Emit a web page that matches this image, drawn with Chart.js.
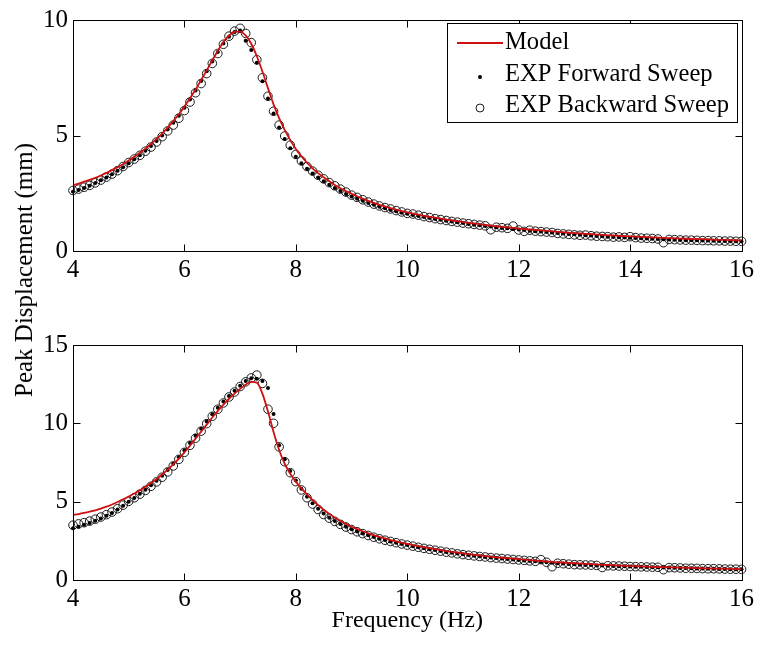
<!DOCTYPE html>
<html>
<head>
<meta charset="utf-8">
<script src="https://cdn.jsdelivr.net/npm/chart.js@4.4.1/dist/chart.umd.min.js"></script>
<style>
  html, body { margin: 0; padding: 0; background: #ffffff; }
  #wrap { position: relative; width: 758px; height: 645px; background: #ffffff; overflow: hidden; }
  canvas { position: absolute; left: 0; }
  #c1 { top: 0; }
  #c2 { top: 300px; }
  #ylab {
    position: absolute; left: 24px; top: 270px;
    font-family: "Liberation Serif", "Times New Roman", serif; font-size: 25px; color: #000;
    white-space: nowrap; transform: translate(-50%, -50%) rotate(-90deg);
  }
</style>
</head>
<body>
<div id="wrap">
  <canvas id="c1" width="758" height="300"></canvas>
  <canvas id="c2" width="758" height="345"></canvas>
  <div id="ylab">Peak Displacement (mm)</div>
</div>
<script>
// ---------------- DATA ----------------
const freq = [4.0,4.1,4.2,4.3,4.4,4.5,4.6,4.7,4.8,4.9,
  5.0,5.1,5.2,5.3,5.4,5.5,5.6,5.7,5.8,5.9,
  6.0,6.1,6.2,6.3,6.4,6.5,6.6,6.7,6.8,6.9,
  7.0,7.1,7.2,7.3,7.4,7.5,7.6,7.7,7.8,7.9,
  8.0,8.1,8.2,8.3,8.4,8.5,8.6,8.7,8.8,8.9,
  9.0,9.1,9.2,9.3,9.4,9.5,9.6,9.7,9.8,9.9,
  10.0,10.1,10.2,10.3,10.4,10.5,10.6,10.7,10.8,10.9,
  11.0,11.1,11.2,11.3,11.4,11.5,11.6,11.7,11.8,11.9,
  12.0,12.1,12.2,12.3,12.4,12.5,12.6,12.7,12.8,12.9,
  13.0,13.1,13.2,13.3,13.4,13.5,13.6,13.7,13.8,13.9,
  14.0,14.1,14.2,14.3,14.4,14.5,14.6,14.7,14.8,14.9,
  15.0,15.1,15.2,15.3,15.4,15.5,15.6,15.7,15.8,15.9,16.0];

// Top panel
const topModel = [2.85,2.92,3.00,3.08,3.17,3.27,3.38,3.50,3.63,3.77,
  3.92,4.08,4.25,4.43,4.63,4.85,5.08,5.34,5.62,5.92,
  6.25,6.61,6.99,7.40,7.82,8.25,8.67,9.05,9.33,9.49,
  9.50,9.33,8.97,8.43,7.77,7.05,6.35,5.75,5.24,4.80,
  4.42,4.10,3.82,3.58,3.37,3.19,3.02,2.86,2.72,2.59,
  2.48,2.37,2.27,2.17,2.08,2.00,1.93,1.86,1.79,1.73,
  1.67,1.62,1.57,1.52,1.48,1.44,1.40,1.36,1.32,1.29,
  1.25,1.22,1.19,1.16,1.13,1.10,1.07,1.05,1.02,1.00,
  0.97,0.95,0.93,0.91,0.89,0.87,0.85,0.83,0.81,0.79,
  0.77,0.76,0.74,0.73,0.71,0.70,0.68,0.67,0.66,0.64,
  0.63,0.62,0.61,0.60,0.59,0.58,0.57,0.56,0.55,0.54,
  0.53,0.52,0.51,0.51,0.50,0.49,0.48,0.48,0.47,0.46,0.46];
const topForward = [2.56,2.64,2.73,2.83,2.94,3.06,3.18,3.32,3.47,3.63,
  3.80,3.97,4.15,4.34,4.55,4.76,5.00,5.26,5.55,5.86,
  6.20,6.56,6.95,7.36,7.78,8.20,8.62,8.98,9.28,9.48,
  9.55,9.10,8.70,8.15,7.35,6.60,5.95,5.35,4.85,4.45,
  4.08,3.80,3.56,3.36,3.18,3.02,2.87,2.73,2.60,2.47,
  2.36,2.26,2.17,2.08,2.00,1.92,1.85,1.78,1.72,1.66,
  1.61,1.56,1.52,1.47,1.43,1.39,1.35,1.31,1.28,1.24,
  1.21,1.17,1.14,1.11,1.08,1.06,1.03,1.00,0.98,0.95,
  0.93,0.91,0.88,0.86,0.84,0.82,0.80,0.78,0.76,0.74,
  0.72,0.70,0.68,0.67,0.65,0.64,0.62,0.61,0.60,0.58,
  0.57,0.56,0.55,0.54,0.53,0.52,0.51,0.50,0.49,0.48,
  0.47,0.47,0.46,0.45,0.45,0.44,0.43,0.43,0.42,0.42,0.41];
const topBackward = [2.62,2.68,2.76,2.84,2.95,3.07,3.20,3.33,3.48,3.66,
  3.83,3.98,4.14,4.32,4.50,4.72,4.95,5.20,5.45,5.75,
  6.08,6.45,6.85,7.25,7.68,8.12,8.55,8.95,9.30,9.52,
  9.64,9.42,9.02,8.28,7.50,6.70,6.05,5.45,4.98,4.58,
  4.18,3.90,3.66,3.46,3.28,3.12,2.96,2.82,2.68,2.55,
  2.42,2.32,2.22,2.12,2.03,1.95,1.88,1.82,1.75,1.69,
  1.63,1.60,1.55,1.49,1.45,1.40,1.36,1.32,1.28,1.25,
  1.21,1.18,1.15,1.12,1.09,0.92,1.03,1.01,0.98,1.08,
  0.91,0.85,0.90,0.86,0.84,0.82,0.80,0.76,0.74,0.72,
  0.70,0.68,0.69,0.66,0.64,0.63,0.62,0.60,0.61,0.59,
  0.62,0.58,0.56,0.55,0.54,0.52,0.36,0.50,0.49,0.48,
  0.47,0.47,0.46,0.45,0.45,0.44,0.44,0.43,0.43,0.42,0.42];

// Bottom panel
const botModel = [4.15,4.21,4.28,4.36,4.45,4.56,4.68,4.82,4.98,5.15,
  5.33,5.52,5.73,5.95,6.19,6.45,6.73,7.04,7.38,7.75,
  8.15,8.58,9.02,9.47,9.92,10.37,10.80,11.20,11.57,11.90,
  12.20,12.47,12.65,12.60,11.90,10.75,9.45,8.30,7.42,6.78,
  6.28,5.85,5.46,5.10,4.78,4.48,4.22,3.98,3.77,3.58,
  3.40,3.25,3.11,2.98,2.86,2.75,2.65,2.55,2.46,2.38,
  2.30,2.23,2.16,2.09,2.03,1.97,1.91,1.85,1.80,1.75,
  1.70,1.65,1.61,1.57,1.53,1.49,1.45,1.42,1.39,1.36,
  1.33,1.30,1.27,1.24,1.21,1.18,1.16,1.13,1.11,1.09,
  1.07,1.05,1.03,1.01,0.99,0.97,0.96,0.94,0.92,0.91,
  0.89,0.88,0.87,0.85,0.84,0.83,0.82,0.81,0.80,0.79,
  0.78,0.77,0.76,0.75,0.74,0.73,0.72,0.72,0.71,0.70,0.69];
const botForward = [3.30,3.40,3.52,3.64,3.78,3.93,4.10,4.28,4.50,4.74,
  5.00,5.24,5.50,5.76,6.04,6.34,6.66,7.02,7.42,7.84,
  8.28,8.74,9.20,9.66,10.12,10.58,11.00,11.40,11.75,12.08,
  12.40,12.70,12.88,12.85,12.70,12.25,10.60,8.60,7.70,6.95,
  6.35,5.82,5.32,4.90,4.55,4.24,3.98,3.76,3.57,3.40,
  3.24,3.10,2.97,2.85,2.74,2.64,2.55,2.46,2.38,2.30,
  2.23,2.16,2.09,2.03,1.97,1.91,1.85,1.79,1.74,1.69,
  1.64,1.59,1.55,1.51,1.47,1.44,1.40,1.37,1.34,1.31,
  1.28,1.25,1.22,1.19,1.16,1.13,1.10,1.07,1.05,1.02,
  1.00,0.98,0.96,0.95,0.93,0.92,0.91,0.90,0.88,0.87,
  0.86,0.85,0.84,0.83,0.82,0.81,0.80,0.79,0.78,0.77,
  0.76,0.75,0.74,0.73,0.72,0.72,0.71,0.70,0.69,0.69,0.68];
const botBackward = [3.50,3.58,3.66,3.76,3.88,4.02,4.17,4.34,4.55,4.78,
  5.02,5.25,5.48,5.72,5.98,6.26,6.56,6.90,7.28,7.70,
  8.15,8.60,9.05,9.50,9.98,10.45,10.90,11.30,11.68,12.00,
  12.35,12.65,12.90,13.08,12.55,10.90,10.00,8.50,7.55,6.85,
  6.28,5.75,5.25,4.85,4.50,4.18,3.95,3.74,3.55,3.38,
  3.22,3.08,2.96,2.84,2.73,2.63,2.54,2.46,2.38,2.30,
  2.23,2.16,2.09,2.02,1.96,1.90,1.84,1.78,1.73,1.67,
  1.62,1.58,1.54,1.50,1.47,1.43,1.40,1.37,1.34,1.31,
  1.28,1.25,1.22,1.19,1.30,1.13,0.85,1.07,1.04,1.01,
  0.98,0.97,0.96,0.95,0.93,0.80,0.91,0.90,0.89,0.88,
  0.86,0.85,0.84,0.83,0.82,0.81,0.66,0.79,0.78,0.77,
  0.75,0.75,0.74,0.73,0.72,0.72,0.71,0.70,0.69,0.69,0.68];

const xTicks = [4, 6, 8, 10, 12, 14, 16];
const topYTicks = [0, 5, 10];
const botYTicks = [0, 5, 10, 15];
const legendLabels = ['Model', 'EXP Forward Sweep', 'EXP Backward Sweep'];
const xTitle = 'Frequency (Hz)';

// ---------------- STYLE ----------------
const FONT = '"Liberation Serif", "Times New Roman", serif';
const RED = '#d01010';

function pairs(ys) { return freq.map((f, i) => ({ x: f, y: ys[i] })); }

function datasets(model, fwd, bwd) {
  return [
    { label: legendLabels[0], data: pairs(model), showLine: true, borderColor: RED, borderWidth: 1.8,
      pointRadius: 0, cubicInterpolationMode: 'monotone', fill: false },
    { label: legendLabels[1], data: pairs(fwd), showLine: false, pointStyle: 'circle', pointRadius: 2,
      backgroundColor: '#000', borderWidth: 0, clip: 10 },
    { label: legendLabels[2], data: pairs(bwd), showLine: false, pointStyle: 'circle', pointRadius: 4.3,
      backgroundColor: 'rgba(0,0,0,0)', borderColor: '#1a1a1a', borderWidth: 1, clip: 10 }
  ];
}

const boxPlugin = {
  id: 'matlabBox',
  afterDraw(chart) {
    const ctx = chart.ctx, a = chart.chartArea;
    const L = Math.round(a.left) + 0.5, R = Math.round(a.right) + 0.5;
    const T = Math.round(a.top) + 0.5, B = Math.round(a.bottom) + 0.5;
    const len = 7;
    ctx.save();
    ctx.strokeStyle = '#000'; ctx.lineWidth = 1;
    ctx.strokeRect(L, T, R - L, B - T);
    ctx.beginPath();
    chart.scales.x.ticks.forEach(t => {
      const px = Math.round(chart.scales.x.getPixelForValue(t.value)) + 0.5;
      ctx.moveTo(px, B); ctx.lineTo(px, B - len);
      ctx.moveTo(px, T); ctx.lineTo(px, T + len);
    });
    chart.scales.y.ticks.forEach(t => {
      const py = Math.round(chart.scales.y.getPixelForValue(t.value)) + 0.5;
      ctx.moveTo(L, py); ctx.lineTo(L + len, py);
      ctx.moveTo(R, py); ctx.lineTo(R - len, py);
    });
    ctx.stroke();
    ctx.restore();
  }
};

const legendPlugin = {
  id: 'boxLegend',
  afterDraw(chart, args, opts) {
    if (!opts.show) return;
    const ctx = chart.ctx;
    const x0 = 447.5, y0 = 23.5, w = 290, h = 99;
    ctx.save();
    ctx.fillStyle = '#fff'; ctx.fillRect(x0, y0, w, h);
    ctx.strokeStyle = '#000'; ctx.lineWidth = 1; ctx.strokeRect(x0, y0, w, h);
    const rows = [43, 75, 106];
    const mx = 480, tx = 505;
    ctx.strokeStyle = RED; ctx.lineWidth = 1.8;
    ctx.beginPath(); ctx.moveTo(457, rows[0]); ctx.lineTo(503, rows[0]); ctx.stroke();
    ctx.fillStyle = '#000';
    ctx.beginPath(); ctx.arc(mx, rows[1] + 2, 2, 0, Math.PI * 2); ctx.fill();
    ctx.strokeStyle = '#1a1a1a'; ctx.lineWidth = 1;
    ctx.beginPath(); ctx.arc(mx, rows[2] + 2, 4, 0, Math.PI * 2); ctx.stroke();
    ctx.fillStyle = '#000';
    ctx.font = '24.6px ' + FONT;
    ctx.textBaseline = 'middle'; ctx.textAlign = 'left';
    legendLabels.forEach((lab, i) => ctx.fillText(lab, tx, rows[i]));
    ctx.restore();
  }
};

function makeChart(id, model, fwd, bwd, yMax, yTicks, padTop, xHeight, showLegend, showXTitle) {
  return new Chart(document.getElementById(id), {
    type: 'scatter',
    data: { datasets: datasets(model, fwd, bwd) },
    options: {
      responsive: false, animation: false, devicePixelRatio: 1,
      layout: { padding: { left: 0, top: padTop, right: 14, bottom: 0 } },
      plugins: { legend: { display: false }, tooltip: { enabled: false }, boxLegend: { show: showLegend } },
      scales: {
        x: {
          type: 'linear', min: 4, max: 16,
          afterBuildTicks: s => { s.ticks = xTicks.map(v => ({ value: v })); },
          afterFit: s => { s.height = xHeight; },
          grid: { display: false, drawTicks: false },
          border: { display: false },
          ticks: { padding: 4, color: '#000', font: { family: FONT, size: 25 }, maxRotation: 0, autoSkip: false },
          title: { display: showXTitle, text: xTitle, color: '#000', font: { family: FONT, size: 24 },
                   padding: { top: 0, bottom: 10 } }
        },
        y: {
          type: 'linear', min: 0, max: yMax,
          afterBuildTicks: s => { s.ticks = yTicks.map(v => ({ value: v })); },
          afterFit: s => { s.width = 73; },
          grid: { display: false, drawTicks: false },
          border: { display: false },
          ticks: { padding: 5, color: '#000', font: { family: FONT, size: 25 } }
        }
      }
    },
    plugins: [boxPlugin, legendPlugin]
  });
}

makeChart('c1', topModel, topForward, topBackward, 10, topYTicks, 17, 49, true, false);
makeChart('c2', botModel, botForward, botBackward, 15, botYTicks, 45, 65, false, true);
</script>
</body>
</html>
